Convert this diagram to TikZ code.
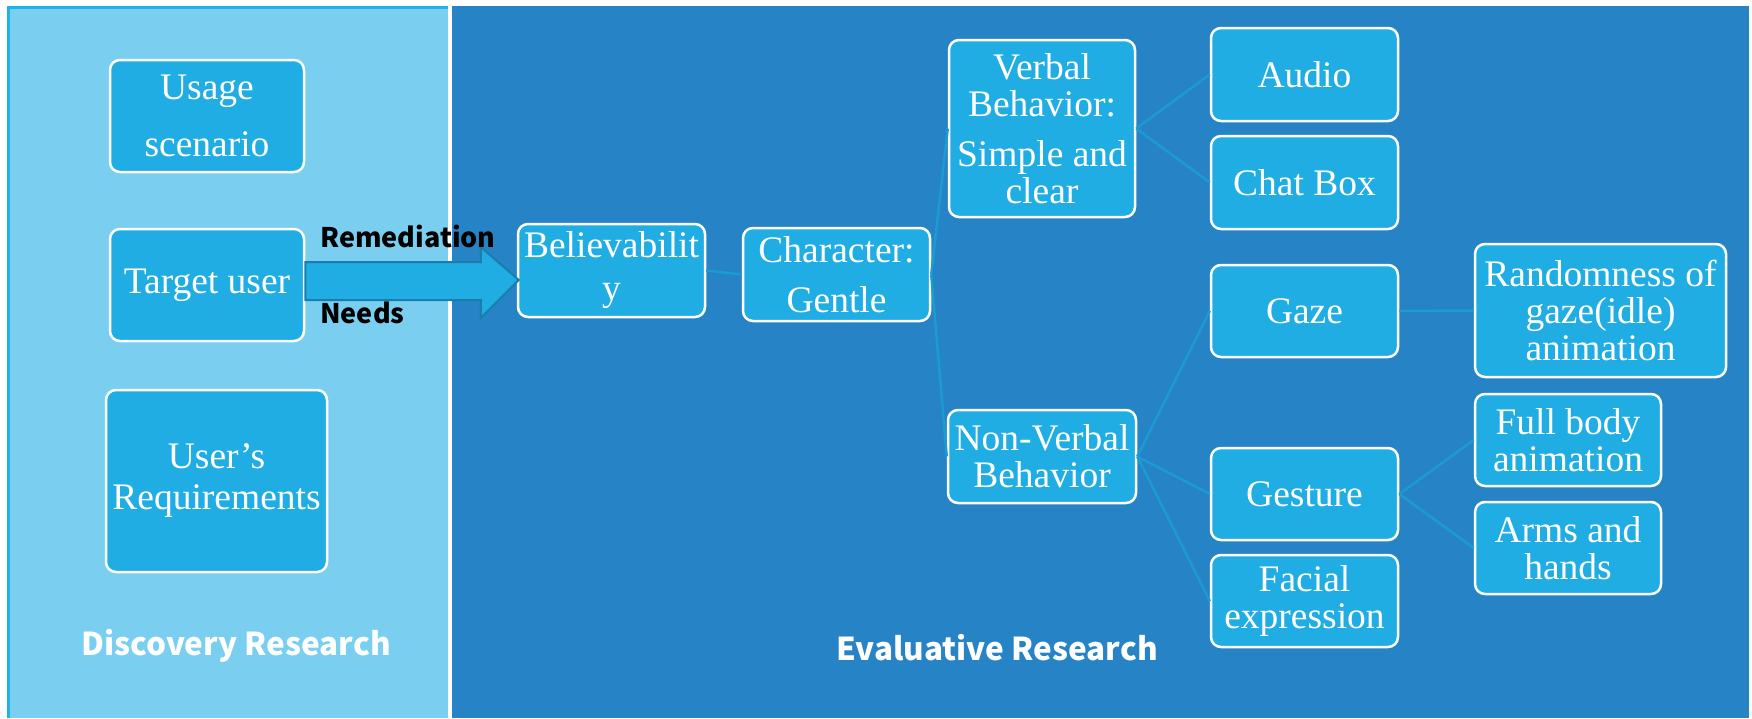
\documentclass[tikz,border=0pt]{standalone}
\usepackage{fontspec}
\setmainfont{Liberation Serif}
\newfontfamily\lblfont{Noto Sans CJK SC}
\usetikzlibrary{calc}
\definecolor{lightpanel}{RGB}{122,206,240}
\definecolor{panelborder}{RGB}{30,180,234}
\definecolor{darkpanel}{RGB}{38,131,198}
\definecolor{boxfill}{RGB}{31,173,227}
\definecolor{connblue}{RGB}{27,155,210}
\definecolor{arrowedge}{RGB}{26,126,172}
\tikzset{
  box/.style={draw=white, line width=2.5pt, fill=boxfill, rounded corners=10pt,
    text=white, align=center, inner sep=0pt,
    font=\fontsize{37.5}{37}\selectfont},
  conn/.style={draw=connblue, line width=2.5pt},
  bigarrow/.style={fill=boxfill, draw=arrowedge, line width=2pt, line join=miter},
  arrowlbl/.style={font=\lblfont\bfseries\fontsize{27}{27}\selectfont, text=black, inner sep=0pt, anchor=base west},
  sectlbl/.style={font=\lblfont\bfseries\fontsize{31.5}{31.5}\selectfont, text=white, inner sep=0pt, anchor=base}
}
\begin{document}
\begin{tikzpicture}[x=1pt,y=-1pt]
\useasboundingbox (0,0) rectangle (1752,718);
\fill[white] (0,0) rectangle (1752,718);
% panels
\fill[lightpanel] (8,7) rectangle (448,718);
\draw[panelborder, line width=2.5pt] (8.5,718) -- (8.5,7.5) -- (448,7.5);
\fill[darkpanel] (452,6) rectangle (1749,718);
% boxes
\node[box, minimum width=194, minimum height=112] (usage) at (207,116) {Usage\\[20pt]scenario};
\node[box, minimum width=194, minimum height=112] (target) at (207,285) {Target user};
\node[box, minimum width=221, minimum height=182] (req) at (216.5,481) {User’s\\[4pt]Requirements};
\node[box, minimum width=187, minimum height=93] (believ) at (611.5,270.5) {Believabilit\\[6pt]y};
\node[box, minimum width=187, minimum height=93] (char) at (836.5,274.5) {Character:\\[13pt]Gentle};
\node[box, minimum width=186, minimum height=177] (verbal) at (1042,128.5) {Verbal\\Behavior:\\[13pt]Simple and\\clear};
\node[box, minimum width=188, minimum height=93] (nonverbal) at (1042,456.5) {Non-Verbal\\Behavior};
\node[box, minimum width=187, minimum height=93] (audio) at (1304.5,74.5) {Audio};
\node[box, minimum width=187, minimum height=93] (chat) at (1304.5,182.5) {Chat Box};
\node[box, minimum width=187, minimum height=92] (gaze) at (1304.5,311) {Gaze};
\node[box, minimum width=187, minimum height=92] (gesture) at (1304.5,494) {Gesture};
\node[box, minimum width=187, minimum height=92] (facial) at (1304.5,601) {Facial\\expression};
\node[box, minimum width=251, minimum height=133] (random) at (1600.5,310.5) {Randomness of\\gaze(idle)\\animation};
\node[box, minimum width=186, minimum height=92] (fullbody) at (1568,440) {Full body\\animation};
\node[box, minimum width=186, minimum height=92] (arms) at (1568,548) {Arms and\\hands};
% connectors
\draw[conn] (believ.east) -- (char.west);
\draw[conn] (char.east) -- (verbal.west);
\draw[conn] (char.east) -- (nonverbal.west);
\draw[conn] (verbal.east) -- (audio.west);
\draw[conn] (verbal.east) -- (chat.west);
\draw[conn] (nonverbal.east) -- (gaze.west);
\draw[conn] (nonverbal.east) -- (gesture.west);
\draw[conn] (nonverbal.east) -- (facial.west);
\draw[conn] (gaze.east) -- (random.west);
\draw[conn] (gesture.east) -- (fullbody.west);
\draw[conn] (gesture.east) -- (arms.west);
% big arrow from Target user to Believability
\coordinate (a1) at ($(target.east)+(0,-23)$);
\coordinate (tip) at ($(believ.west)+(2,9.5)$);
\draw[bigarrow] (a1) -- ($(tip|-a1)+(-38,0)$) -- ($(tip)+(-38,-33)$) -- (tip)
  -- ($(tip)+(-38,38)$) -- ($(tip)+(-38,20)$) -- ($(target.east)+(0,15)$) -- cycle;
\node[arrowlbl] (remlbl) at (320,247) {Remediation};
\node[arrowlbl] (needslbl) at (320,323) {Needs};
% section titles
\node[sectlbl] (disc) at (236,655) {Discovery Research};
\node[sectlbl] (evalr) at (997,660) {Evaluative Research};
\end{tikzpicture}
\end{document}
